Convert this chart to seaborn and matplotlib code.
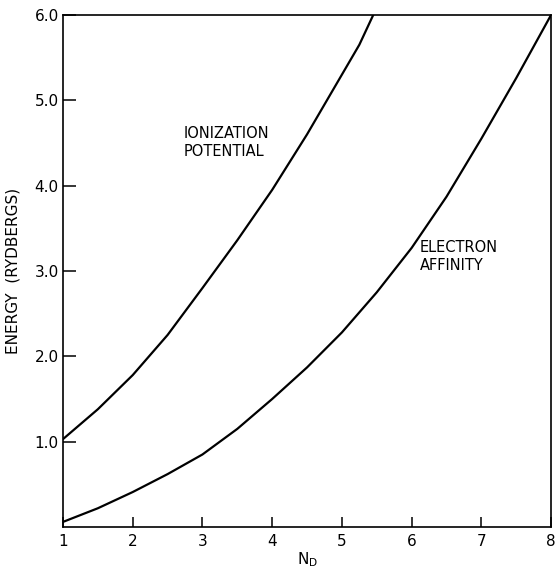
import numpy as np
import pandas as pd
import matplotlib
matplotlib.use("Agg")
import matplotlib.pyplot as plt
import seaborn as sns

# values
ip_nd = [1.0, 1.5, 2.0, 2.5, 3.0, 3.5, 4.0, 4.5, 5.0, 5.25, 5.45]
ip_energy = [1.03, 1.38, 1.78, 2.25, 2.80, 3.36, 3.95, 4.60, 5.30, 5.65, 6.0]

ea_nd = [1.0, 1.5, 2.0, 2.5, 3.0, 3.5, 4.0, 4.5, 5.0, 5.5, 6.0, 6.5, 7.0, 7.5, 8.0]
ea_energy = [0.06, 0.22, 0.41, 0.62, 0.85, 1.15, 1.50, 1.87, 2.28, 2.75, 3.27, 3.87, 4.55, 5.26, 6.0]

x_ticks = [1, 2, 3, 4, 5, 6, 7, 8]
y_ticks = [1.0, 2.0, 3.0, 4.0, 5.0, 6.0]

df = pd.concat([
    pd.DataFrame({"nd": ip_nd, "energy": ip_energy, "curve": "ip"}),
    pd.DataFrame({"nd": ea_nd, "energy": ea_energy, "curve": "ea"}),
])

sns.set_style("ticks")
plt.rcParams["font.family"] = ["DejaVu Sans"]
plt.rcParams["text.color"] = "black"
plt.rcParams["axes.labelcolor"] = "black"
plt.rcParams["xtick.color"] = "black"
plt.rcParams["ytick.color"] = "black"

fig = plt.figure(figsize=(5.55, 5.71), dpi=100)
ax = fig.add_axes([0.1135, 0.077, 0.993 - 0.1135, 0.974 - 0.077])

sns.lineplot(data=df, x="nd", y="energy", units="curve", estimator=None,
             color="black", linewidth=1.6, sort=False, ax=ax)

ax.set_xlim(1, 8)
ax.set_ylim(0, 6)
ax.set_xticks(x_ticks)
ax.set_xticklabels([str(t) for t in x_ticks])
ax.set_yticks(y_ticks)
ax.set_yticklabels([f"{t:.1f}" for t in y_ticks])
ax.tick_params(axis="both", direction="in", labelsize=11, width=1.1)
ax.tick_params(axis="y", length=9, pad=3)
ax.tick_params(axis="x", length=7, pad=5)
for s in ax.spines.values():
    s.set_visible(True)
    s.set_linewidth(1.2)
    s.set_color("black")

ax.set_xlabel("N$_\\mathregular{D}$", fontsize=11, labelpad=1)
ax.set_ylabel("ENERGY  (RYDBERGS)", fontsize=11, labelpad=10)

ax.text(2.73, 4.5, "IONIZATION\nPOTENTIAL", fontsize=10.5, va="center", ha="left",
        linespacing=1.25)
ax.text(6.12, 3.17, "ELECTRON\nAFFINITY", fontsize=10.5, va="center", ha="left",
        linespacing=1.25)

fig.savefig("out.png", dpi=100)
